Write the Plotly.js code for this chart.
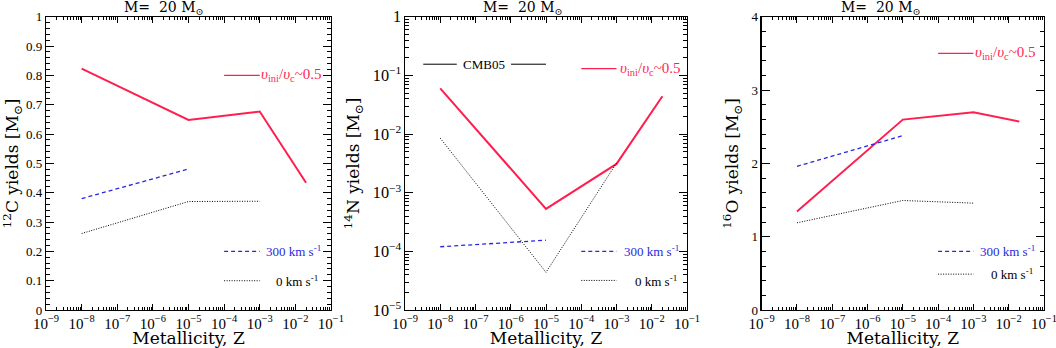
<!DOCTYPE html>
<html>
<head>
<meta charset="utf-8">
<script src="https://cdn.plot.ly/plotly-3.0.1.min.js"></script>
<style>
body { margin: 0; background: #fff; }
#yields { width: 1056px; height: 348px; }
</style>
</head>
<body>
<div id="yields"></div>
<script>
// metallicities of the models
var zRot = [1e-8, 1e-5, 1e-3, 2e-2];
var z300 = [1e-8, 1e-5];
var z0 = [1e-8, 1e-5, 1e-3];

// 12C yields [Msun]
var c12Rot = [0.823, 0.648, 0.677, 0.434];
var c12_300 = [0.380, 0.481];
var c12_0 = [0.261, 0.370, 0.371];

// 14N yields [Msun]
var n14Rot = [0.060, 5.3e-4, 3.1e-3, 0.044];
var n14_300 = [1.2e-4, 1.55e-4];
var n14_0 = [8.5e-3, 4.4e-5, 3.2e-3];

// 16O yields [Msun]
var o16Rot = [1.344, 2.597, 2.697, 2.570];
var o16_300 = [1.96, 2.378];
var o16_0 = [1.19, 1.494, 1.458];

// legend key segments
var keyX = [1e-4, 1e-3];
var c12Keys = [0.8, 0.2, 0.1];
var n14Keys = [0.13, 1e-4, 3.2e-5];
var o16Keys = [3.5, 0.8, 0.49];
var cmbLeft = [3.3e-9, 2.95e-8];
var cmbRight = [1.02e-6, 1e-5];
var cmbY = 0.155;

var RED = '#ff1f4f', BLUE = '#2828e0', BLACK = '#000';
var FONT = 'DejaVu Serif, serif';
var TFONT = 'Liberation Serif, serif';
var DASH = '4px,3px', DOT = '1px,1.5px';

var data = [];

function panel(n, rot, s300, s0, keys) {
    var xa = n == 1 ? 'x' : 'x' + n;
    var ya = n == 1 ? 'y' : 'y' + n;
    var common = {mode: 'lines', xaxis: xa, yaxis: ya, hoverinfo: 'skip', showlegend: false};
    data.push(Object.assign({x: zRot, y: rot, line: {color: RED, width: 2}}, common));
    data.push(Object.assign({x: z300, y: s300, line: {color: BLUE, width: 1.3, dash: DASH}}, common));
    data.push(Object.assign({x: z0, y: s0, line: {color: BLACK, width: 1, dash: DOT}}, common));
    // legend keys
    data.push(Object.assign({x: keyX, y: [keys[0], keys[0]], line: {color: RED, width: 1.3}}, common));
    data.push(Object.assign({x: keyX, y: [keys[1], keys[1]], line: {color: BLUE, width: 1.3, dash: DASH}}, common));
    data.push(Object.assign({x: keyX, y: [keys[2], keys[2]], line: {color: BLACK, width: 1, dash: DOT}}, common));
}

panel(1, c12Rot, c12_300, c12_0, c12Keys);
panel(2, n14Rot, n14_300, n14_0, n14Keys);
panel(3, o16Rot, o16_300, o16_0, o16Keys);

data.push({x: cmbLeft, y: [cmbY, cmbY], mode: 'lines', xaxis: 'x2', yaxis: 'y2',
    line: {color: BLACK, width: 1}, hoverinfo: 'skip', showlegend: false});
data.push({x: cmbRight, y: [cmbY, cmbY], mode: 'lines', xaxis: 'x2', yaxis: 'y2',
    line: {color: BLACK, width: 1}, hoverinfo: 'skip', showlegend: false});

var yDom = [0.109, 0.952];

function xaxis(dom, anchor) {
    return {
        type: 'log', range: [-9, -1], dtick: 1, exponentformat: 'power',
        domain: dom, anchor: anchor, ticklabeloverflow: 'allow',
        ticks: 'inside', ticklen: 6, tickwidth: 1, tickcolor: '#000',
        minor: {ticks: 'inside', ticklen: 3, dtick: 'D1', tickcolor: '#000', tickwidth: 1},
        mirror: 'allticks', showline: true, linecolor: '#000', linewidth: 1.2,
        showgrid: false, zeroline: false,
        tickfont: {family: TFONT, size: 12, color: '#000'},
        title: {text: 'Metallicity, Z', font: {family: FONT, size: 17, color: '#000'}, standoff: 1}
    };
}

function yaxis(anchor, extra) {
    return Object.assign({
        domain: yDom, anchor: anchor, ticklabeloverflow: 'allow',
        ticks: 'inside', ticklen: 8, tickwidth: 1, tickcolor: '#000',
        mirror: 'allticks', showline: true, linecolor: '#000', linewidth: 1.2,
        showgrid: false, zeroline: false,
        tickfont: {family: TFONT, size: 13, color: '#000'}
    }, extra);
}

function label(xa, ya, x, y, text, color, size) {
    return {xref: xa, yref: ya, x: x, y: y, text: text, showarrow: false,
        xanchor: 'center', yanchor: 'middle', font: {family: TFONT, size: size || 13, color: color}};
}

var vText = '<i>υ</i><sub>ini</sub>/<i>υ</i><sub>c</sub>~0.5';
var v300 = '300 km s<sup>-1</sup>';
var v0 = '0 km s<sup>-1</sup>';

var annotations = [
    label('x', 'y', -2.1, 0.8, vText, RED, 15),
    label('x', 'y', -2.06, 0.2, v300, BLUE),
    label('x', 'y', -1.94, 0.1, v0, BLACK),
    label('x2', 'y2', -2.05, -0.887, vText, RED, 15),
    label('x2', 'y2', -2.0, -4.0, v300, BLUE),
    label('x2', 'y2', -1.88, -4.5, v0, BLACK),
    label('x2', 'y2', -6.76, -0.81, 'CMB05', BLACK),
    label('x3', 'y3', -2.1, 3.5, vText, RED, 15),
    label('x3', 'y3', -2.04, 0.8, v300, BLUE),
    label('x3', 'y3', -1.92, 0.49, v0, BLACK)
];

var titleX = [164, 523, 881];
titleX.forEach(function (px) {
    annotations.push({xref: 'paper', yref: 'paper', x: px / 1056, y: 1 - 8 / 348,
        text: 'M=  20 M<sub>⊙</sub>', showarrow: false, xanchor: 'center', yanchor: 'middle',
        font: {family: FONT, size: 14, color: '#000'}});
});

var layout = {
    width: 1056, height: 348,
    margin: {l: 0, r: 0, t: 0, b: 0},
    paper_bgcolor: '#fff', plot_bgcolor: '#fff',
    xaxis: xaxis([0.0436, 0.3134], 'y'),
    xaxis2: xaxis([0.3835, 0.6506], 'y2'),
    xaxis3: xaxis([0.7213, 0.9886], 'y3'),
    yaxis: yaxis('x', {
        range: [0, 1], dtick: 0.1,
        minor: {ticks: 'inside', ticklen: 4, dtick: 0.02, tickcolor: '#000', tickwidth: 1},
        title: {text: '<sup>12</sup>C yields [M<sub>⊙</sub>]', font: {family: FONT, size: 17, color: '#000'}, standoff: 8}
    }),
    yaxis2: yaxis('x2', {
        type: 'log', range: [-5, 0], dtick: 1, exponentformat: 'power',
        minor: {ticks: 'inside', ticklen: 4, dtick: 'D1', tickcolor: '#000', tickwidth: 1},
        title: {text: '<sup>14</sup>N yields [M<sub>⊙</sub>]', font: {family: FONT, size: 17, color: '#000'}, standoff: 8}
    }),
    yaxis3: yaxis('x3', {
        range: [0, 4], dtick: 1,
        minor: {ticks: 'inside', ticklen: 4, dtick: 0.2, tickcolor: '#000', tickwidth: 1},
        title: {text: '<sup>16</sup>O yields [M<sub>⊙</sub>]', font: {family: FONT, size: 17, color: '#000'}, standoff: 8}
    }),
    annotations: annotations
};

Plotly.newPlot('yields', data, layout, {staticPlot: true});
</script>
</body>
</html>
